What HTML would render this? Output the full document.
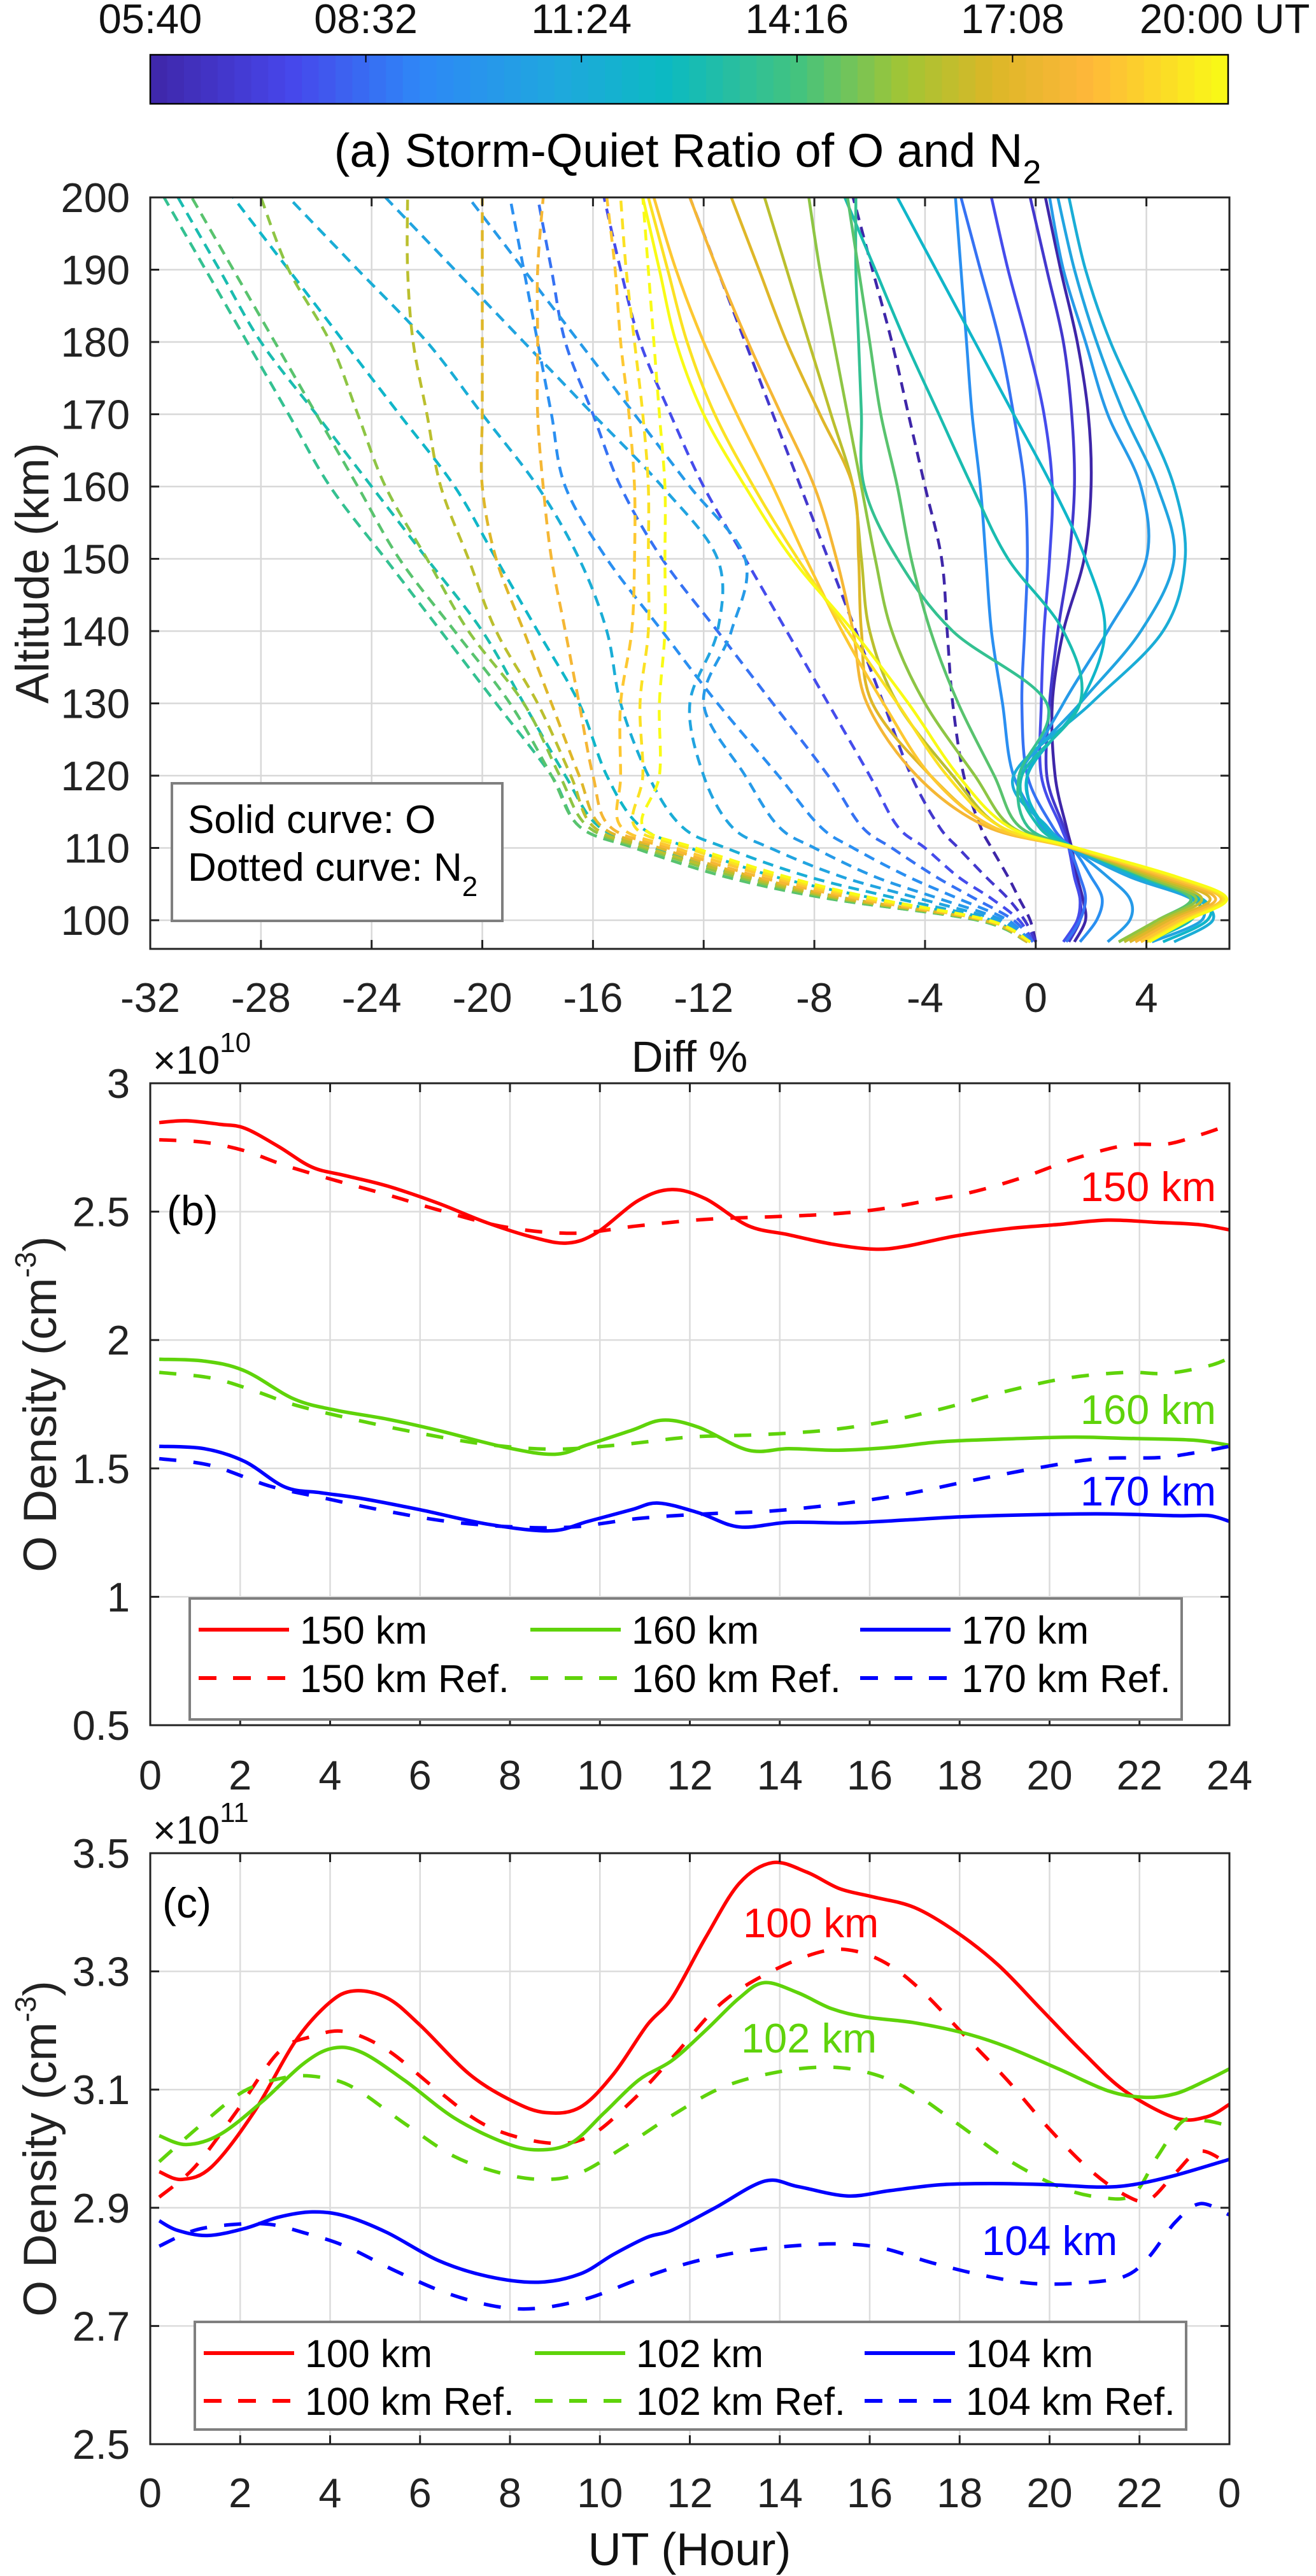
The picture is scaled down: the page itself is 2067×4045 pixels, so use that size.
<!DOCTYPE html>
<html><head><meta charset="utf-8"><title>Storm-Quiet O and N2</title>
<style>
html,body{margin:0;padding:0;background:#fff;}
svg{display:block;font-family:"Liberation Sans",Arial,sans-serif;}
</style></head>
<body>
<svg id="fig" width="2067" height="4045" viewBox="0 0 2067 4045" xmlns="http://www.w3.org/2000/svg">
<defs>
<clipPath id="clipA"><rect x="236" y="310" width="1695" height="1180"/></clipPath>
<clipPath id="clipB"><rect x="236" y="1701" width="1695" height="1009"/></clipPath>
<clipPath id="clipC"><rect x="236" y="2910" width="1695" height="928"/></clipPath>
</defs>
<g id="colorbar"></g>
<g id="panelA"></g>
<g id="panelB"></g>
<g id="panelC"></g>
</svg>
<script>
// ---------- Panel (a) data ----------
const aAlts = [97,100,103,106,110,113,120,130,140,150,160,170,180,190,200];
const aTimes = [5.67,6.7,7.7,8.7,9.7,10.3,10.9,11.5,12.2,13,13.8,14.6,15.4,16.2,17,17.8,18.6,19.3,20];
const oDiff = [
 [1.4,1.8,1.7,1.5,1.3,1.1, 0.7,0.6,1.0,1.75,2.0,1.9,1.5,0.9,0.35],
 [1.2,1.6,1.6,1.4,1.2,1.0, 0.4,0.5,0.8,1.2,1.4,1.3,1.0,0.4,-0.2],
 [1.0,1.5,1.6,1.4,1.2,0.9, 0.2,0.2,0.3,0.5,0.6,0.3,-0.3,-1.0,-1.6],
 [1.1,1.6,1.8,1.6,1.2,0.6, -0.3,-0.5,-0.4,-0.3,-0.4,-0.8,-1.3,-2.0,-2.7],
 [1.6,2.2,2.4,2.0,1.3,0.3, -0.8,-1.2,-1.6,-1.8,-2.0,-2.3,-2.5,-2.7,-2.9],
 [2.6,3.4,3.4,2.6,1.3,0.2, -0.3,1.0,2.6,4.0,3.8,2.6,1.8,1.0,0.5],
 [4.2,6.0,5.6,3.4,1.3,0.3, -0.6,1.6,3.8,5.0,4.4,3.2,2.2,1.4,0.8],
 [5.0,6.4,5.8,3.6,1.4,0.4, -0.8,2.0,4.6,5.4,5.0,3.9,2.7,1.8,1.2],
 [4.6,6.2,6.0,3.8,1.4,0.3, -0.3,1.6,2.5,1.8,0.6,-0.8,-2.2,-3.6,-5.0],
 [4.0,5.6,5.8,3.8,1.4,0.1, -0.5,1.6,1.0,-1.0,-2.3,-3.5,-4.7,-5.8,-6.9],
 [3.4,4.8,5.6,3.9,1.4,-0.3, -0.6,0.4,-3.0,-5.0,-6.2,-6.3,-6.4,-6.5,-6.5],
 [3.0,4.4,5.6,4.0,1.4,-0.6, -1.5,-2.8,-3.8,-4.5,-5.0,-5.6,-6.0,-6.4,-6.8],
 [3.0,4.4,5.8,4.0,1.3,-0.9, -2.2,-4.0,-5.2,-5.8,-6.3,-6.8,-7.3,-7.8,-8.2],
 [3.2,4.6,6.0,4.2,1.3,-1.3, -3.0,-5.0,-6.0,-6.3,-6.6,-7.4,-8.2,-9.0,-9.8],
 [3.4,4.8,6.3,4.4,1.3,-1.6, -3.8,-5.9,-6.3,-6.4,-6.6,-7.8,-9.0,-10.0,-11.0],
 [3.6,5.0,6.5,4.6,1.3,-1.8, -4.3,-6.1,-6.6,-7.2,-8.0,-9.2,-10.4,-11.5,-12.5],
 [3.8,5.2,6.7,4.8,1.3,-1.6, -3.8,-5.5,-7.0,-8.3,-9.5,-10.8,-12.0,-13.0,-13.8],
 [4.0,5.4,6.8,5.0,1.4,-1.3, -3.2,-5.0,-6.8,-8.6,-10.2,-11.6,-12.6,-13.3,-14.0],
 [4.1,5.5,6.9,5.1,1.5,-1.0, -2.8,-4.6,-6.6,-8.8,-10.5,-12.0,-13.0,-13.6,-14.2]
];
const n2Diff = [
 [0,-0.2,-0.6,-1.0,-1.6,-2.0, -2.6,-3.0,-3.2,-3.4,-4.0,-4.6,-5.2,-5.9,-6.6],
 [0,-0.4,-1.0,-1.8,-2.8,-3.5, -4.5,-5.5,-6.5,-7.5,-8.5,-9.5,-10.5,-11.5,-12.5],
 [-0.1,-0.6,-1.6,-2.8,-4.0,-5.0, -6.0,-7.5,-9.0,-10.5,-12.0,-13.2,-14.3,-15.0,-15.6],
 [-0.1,-0.8,-2.2,-3.6,-5.2,-6.3, -7.5,-9.5,-11.5,-13.5,-15.0,-16.0,-17.0,-17.5,-18.0],
 [-0.2,-1.0,-2.8,-4.6,-6.6,-7.8, -9.3,-11.5,-13.5,-15.5,-17.0,-17.5,-18.0,-18.5,-19.0],
 [-0.2,-1.2,-3.5,-5.8,-8.0,-9.3, -10.5,-12.0,-11.0,-10.5,-12.5,-14.5,-16.5,-18.5,-20.5],
 [-0.2,-1.4,-4.2,-7.0,-9.6,-11.0, -12.0,-12.5,-11.5,-11.5,-13.5,-16.0,-18.5,-21.0,-23.5],
 [-0.3,-1.6,-5.0,-8.2,-11.2,-12.8, -14.0,-15.0,-15.5,-16.5,-18.0,-20.0,-22.0,-24.5,-27.0],
 [-0.3,-1.8,-5.8,-9.4,-12.5,-14.3, -15.5,-16.5,-18.0,-19.5,-21.0,-23.0,-25.0,-27.0,-29.0],
 [-0.3,-2.0,-6.8,-10.5,-13.8,-15.8, -17.0,-18.5,-20.0,-22.0,-24.0,-26.0,-28.0,-29.5,-31.0],
 [-0.3,-2.1,-7.5,-11.2,-14.5,-16.5, -17.5,-19.5,-21.5,-23.5,-25.5,-27.0,-28.5,-30.0,-31.5],
 [-0.3,-2.1,-7.5,-11.2,-14.5,-16.5, -17.5,-19.0,-21.0,-23.0,-24.5,-26.0,-27.5,-29.0,-30.5],
 [-0.3,-2.0,-7.2,-10.8,-14.2,-16.2, -17.2,-18.5,-20.5,-22.0,-23.5,-24.5,-25.5,-27.0,-28.0],
 [-0.3,-1.9,-7.0,-10.5,-14.0,-16.0, -16.8,-18.0,-19.5,-20.5,-21.5,-22.0,-22.5,-22.7,-22.7],
 [-0.3,-1.9,-6.8,-10.2,-13.6,-15.7, -16.5,-17.5,-18.5,-19.5,-20.0,-20.0,-20.0,-20.0,-20.0],
 [-0.2,-1.8,-6.5,-10.0,-13.3,-15.4, -16.0,-16.5,-17.0,-17.5,-17.8,-18.0,-18.0,-18.0,-17.8],
 [-0.2,-1.8,-6.3,-9.6,-13.0,-15.0, -15.0,-15.0,-14.6,-14.5,-14.5,-14.7,-15.0,-15.2,-15.5],
 [-0.2,-1.7,-6.0,-9.3,-12.6,-14.5, -14.2,-14.3,-14.0,-14.0,-14.0,-14.2,-14.5,-14.8,-15.0],
 [-0.2,-1.7,-5.8,-9.0,-12.3,-14.2, -13.6,-13.6,-13.4,-13.4,-13.4,-13.6,-13.8,-14.0,-14.2]
];
const aXTicks = [-32,-28,-24,-20,-16,-12,-8,-4,0,4];
const aYTicks = [100,110,120,130,140,150,160,170,180,190,200];
const cbTickLabels = ["05:40","08:32","11:24","14:16","17:08","20:00 UT"];

// ---------- Panel (b) data ----------
const bH150 = [0.2,0.8,1.55,2.1,2.85,3.6,4.35,5.27,6.4,7.5,8.6,9.3,9.93,10.86,11.6,12.35,13.3,14.2,15.15,16.1,16.8,17.9,19.1,20.2,21.3,22.4,23.35,24];
const bV150 = [2.847,2.854,2.84,2.825,2.754,2.673,2.64,2.60,2.533,2.456,2.396,2.378,2.418,2.544,2.586,2.55,2.445,2.41,2.374,2.354,2.365,2.405,2.434,2.45,2.467,2.458,2.449,2.429];
const bH150r = [0.2,1.2,2.1,3.0,4.15,5.27,6.4,7.9,9.4,10.86,12.35,13.8,15,16.1,17.2,18.3,19.4,20.55,21.7,22.6,23.35,24];
const bV150r = [2.78,2.77,2.737,2.68,2.62,2.566,2.507,2.44,2.416,2.445,2.47,2.48,2.489,2.507,2.54,2.577,2.633,2.706,2.759,2.763,2.799,2.838];
const bH160 = [0.2,1.2,2.1,3.2,4.15,5.27,6.4,7.9,9.0,9.74,10.7,11.4,12.2,13.3,14.2,15.3,16.45,17.6,19.1,20.55,21.7,23.2,24];
const bV160 = [1.925,1.918,1.88,1.77,1.726,1.692,1.648,1.582,1.555,1.593,1.648,1.688,1.66,1.571,1.577,1.571,1.582,1.604,1.615,1.622,1.617,1.61,1.59];
const bH160r = [0.2,1.36,2.3,3.2,4.5,6.0,7.5,9.0,10.5,12,13.5,15,16.3,17.6,19.1,20.4,21.7,22.6,23.55,24];
const bV160r = [1.874,1.852,1.803,1.748,1.692,1.637,1.593,1.575,1.593,1.622,1.631,1.648,1.681,1.732,1.803,1.852,1.874,1.87,1.90,1.93];
const bH170 = [0.2,1.2,2.1,3.0,3.8,4.7,6.0,7.5,8.9,9.74,10.7,11.3,12.2,13.1,14.2,15.5,16.8,18.1,20.0,21.3,22.8,23.55,24];
const bV170 = [1.586,1.577,1.527,1.427,1.405,1.383,1.339,1.283,1.257,1.294,1.339,1.365,1.327,1.272,1.29,1.288,1.299,1.312,1.321,1.323,1.316,1.316,1.294];
const bH170r = [0.2,1.36,2.66,3.8,5.1,6.6,8.1,9.4,10.86,12.35,13.8,15.3,16.8,18.3,19.8,21.1,22.4,23.2,24];
const bV170r = [1.538,1.511,1.431,1.387,1.339,1.294,1.272,1.272,1.305,1.323,1.334,1.361,1.4,1.454,1.504,1.538,1.542,1.56,1.586];
const bYTicks = [0.5,1,1.5,2,2.5,3];
const bYTickLabels = ["0.5","1","1.5","2","2.5","3"];
const bXTicks = [0,2,4,6,8,10,12,14,16,18,20,22,24];
const bXTickLabels = ["0","2","4","6","8","10","12","14","16","18","20","22","24"];

// ---------- Panel (c) data ----------
const cH100 = [0.2,0.7,1.36,2.3,3.22,3.97,4.53,5.27,6.0,7.1,8.07,8.8,9.56,10.3,11.05,11.6,12.35,13.1,13.84,14.6,15.33,16.08,17.0,17.94,18.87,19.8,20.74,21.67,22.8,23.5,24];
const cV100 = [2.961,2.948,2.969,3.061,3.181,3.246,3.267,3.255,3.209,3.126,3.08,3.061,3.07,3.126,3.209,3.255,3.357,3.449,3.484,3.468,3.44,3.426,3.408,3.366,3.31,3.237,3.163,3.098,3.052,3.054,3.075];
const cH100r = [0.2,0.99,1.9,2.85,3.6,4.34,5.27,6.4,7.5,8.8,9.74,10.7,11.6,12.7,13.84,14.96,15.7,16.45,17.2,18.13,19.06,20.0,20.9,21.67,22.2,22.8,23.35,24];
const cV100r = [2.918,2.969,3.061,3.163,3.19,3.198,3.167,3.098,3.038,3.01,3.02,3.08,3.153,3.246,3.301,3.334,3.334,3.31,3.264,3.19,3.116,3.033,2.964,2.922,2.913,2.959,2.996,2.973];
const cH102 = [0.2,0.8,1.55,2.48,3.41,4.06,4.7,5.65,6.76,7.88,8.63,9.37,10.1,10.86,11.6,12.35,13.1,13.66,14.4,15.15,15.9,17.0,18.13,19.06,20.2,21.3,22.1,22.8,23.5,24];
const cV102 = [3.022,3.007,3.024,3.079,3.144,3.17,3.163,3.116,3.052,3.01,2.998,3.01,3.061,3.116,3.149,3.2,3.255,3.281,3.264,3.237,3.223,3.213,3.195,3.172,3.135,3.098,3.087,3.093,3.116,3.135];
const cH102r = [0.2,1.17,2.1,3.04,3.78,4.53,5.65,6.76,7.88,8.8,9.56,10.5,11.6,12.7,13.84,14.96,15.9,16.8,17.94,19.06,20.2,21.1,21.85,22.4,22.97,23.5,24];
const cV102r = [2.978,3.043,3.098,3.121,3.121,3.103,3.043,2.987,2.957,2.948,2.959,3.001,3.056,3.103,3.128,3.138,3.13,3.103,3.043,2.982,2.936,2.918,2.922,2.987,3.047,3.047,3.038];
const cH104 = [0.2,0.6,1.27,2.1,2.85,3.6,4.34,5.27,6.4,7.5,8.63,9.56,10.3,11.05,11.6,12.54,13.66,14.4,15.5,16.45,17.57,18.7,20.0,21.1,21.85,22.8,24];
const cV104 = [2.878,2.862,2.853,2.865,2.884,2.893,2.886,2.858,2.811,2.784,2.774,2.788,2.821,2.85,2.862,2.899,2.945,2.936,2.92,2.929,2.939,2.941,2.939,2.935,2.939,2.955,2.982];
const cH104r = [0.2,0.99,1.9,2.66,3.41,4.34,5.46,6.58,7.7,8.63,9.74,10.86,12.0,13.1,14.2,15.33,16.27,17.38,18.5,19.62,20.74,21.67,22.2,22.8,23.35,24];
const cV104r = [2.835,2.862,2.872,2.872,2.858,2.835,2.793,2.756,2.733,2.73,2.747,2.779,2.807,2.825,2.835,2.839,2.832,2.807,2.786,2.772,2.773,2.784,2.816,2.876,2.907,2.888];
const cYTicks = [2.5,2.7,2.9,3.1,3.3,3.5];
const cYTickLabels = ["2.5","2.7","2.9","3.1","3.3","3.5"];
const cXTicks = [0,2,4,6,8,10,12,14,16,18,20,22,24];
const cXTickLabels = ["0","2","4","6","8","10","12","14","16","18","20","22","0"];

// ---------- helpers ----------
const NS = "http://www.w3.org/2000/svg";
function mk(tag, attrs, parent){
  const e = document.createElementNS(NS, tag);
  for (const k in attrs) e.setAttribute(k, attrs[k]);
  parent.appendChild(e);
  return e;
}
function txt(parent, x, y, s, size, anchor, fill){
  const t = mk("text", {x:x, y:y, "font-size":size, "text-anchor":anchor||"start", fill:fill||"#222"}, parent);
  t.textContent = s;
  return t;
}
function span(t, s, size, dy){
  const ts = mk("tspan", {"font-size":size, dy:dy}, t);
  ts.textContent = s;
  return ts;
}
const parulaStops = [[0,[62,38,168]],[0.13,[71,70,235]],[0.25,[46,135,247]],[0.38,[31,168,221]],[0.48,[11,186,194]],[0.6,[67,195,127]],[0.7,[162,197,52]],[0.78,[219,183,39]],[0.87,[254,183,58]],[1,[249,251,21]]];
function parula(f){
  f = Math.max(0, Math.min(1, f));
  for (let i=1;i<parulaStops.length;i++){
    if (f <= parulaStops[i][0]){
      const a = parulaStops[i-1], b = parulaStops[i];
      const u = (f-a[0])/(b[0]-a[0]);
      const c = a[1].map((v,j)=>Math.round(v+(b[1][j]-v)*u));
      return "rgb("+c.join(",")+")";
    }
  }
  return "rgb(249,251,21)";
}
function smoothPath(xs, ys, xf, yf){
  const p = xs.map((x,i)=>[xf(x), yf(ys[i])]);
  let d = "M"+p[0][0].toFixed(1)+","+p[0][1].toFixed(1);
  for (let i=0;i<p.length-1;i++){
    const p0 = p[i-1]||p[i], p1=p[i], p2=p[i+1], p3=p[i+2]||p[i+1];
    const c1x = p1[0]+(p2[0]-p0[0])/6, c1y = p1[1]+(p2[1]-p0[1])/6;
    const c2x = p2[0]-(p3[0]-p1[0])/6, c2y = p2[1]-(p3[1]-p1[1])/6;
    d += " C"+c1x.toFixed(1)+","+c1y.toFixed(1)+" "+c2x.toFixed(1)+","+c2y.toFixed(1)+" "+p2[0].toFixed(1)+","+p2[1].toFixed(1);
  }
  return d;
}

// ---------- colorbar ----------
(function(){
  const g = document.getElementById("colorbar");
  const x0 = 236, x1 = 1929, y0 = 86, y1 = 163, n = 64;
  for (let i=0;i<n;i++){
    const r = mk("rect", {x: x0+(x1-x0)*i/n, y:y0, width:(x1-x0)/n+0.6, height:y1-y0, fill: parula((i+0.5)/n)}, g);
    
    
  }
  const fr = mk("rect", {x:x0, y:y0, width:x1-x0, height:y1-y0, fill:"none", stroke:"#000", "stroke-width":2.5}, g);
  
  
  cbTickLabels.forEach((s,i)=>{
    const x = x0 + (x1-x0)*i/(cbTickLabels.length-1);
    if (i>0 && i<cbTickLabels.length-1) mk("line",{x1:x,x2:x,y1:y0,y2:y0+12,stroke:"#000","stroke-width":2},g);
    const last = i===cbTickLabels.length-1;
    const t = txt(g, last ? 1790 : x, 52, s, 65, last ? "start":"middle", "#111");
    
    
  });
})();

// ---------- panel A ----------
(function(){
  const g = document.getElementById("panelA");
  const L=236, R=1931, T=310, B=1490;
  const xf = d => L + (d+32)*(R-L)/39;
  const yf = a => T + (200-a)*11.35;
  const title = mk("text", {x:1080, y:262, "font-size":74, "text-anchor":"middle", fill:"#000"}, g);
  
  
  span(title, "(a) Storm-Quiet Ratio of O and N", 74, 0);
  span(title, "2", 52, 26);
  const grid = mk("g", {stroke:"#d8d8d8","stroke-width":2.5}, g);
  
  
  aXTicks.forEach(v=>mk("line",{x1:xf(v),x2:xf(v),y1:T,y2:B},grid));
  aYTicks.forEach(v=>mk("line",{x1:L,x2:R,y1:yf(v),y2:yf(v)},grid));
  const curves = mk("g", {"clip-path":"url(#clipA)", fill:"none", "stroke-width":4.5, "stroke-linejoin":"round"}, g);
  const t0 = aTimes[0], t1 = aTimes[aTimes.length-1];
  n2Diff.forEach((row,i)=>{
    const p = mk("path", {d: smoothPath(aAlts, row, yf, xf).replace(/(-?\d+\.?\d*),(-?\d+\.?\d*)/g, "$2,$1"), stroke: parula((aTimes[i]-t0)/(t1-t0)), "stroke-dasharray":"17 11"}, curves);
    
    
  });
  oDiff.forEach((row,i)=>{
    const p = mk("path", {d: smoothPath(aAlts, row, yf, xf).replace(/(-?\d+\.?\d*),(-?\d+\.?\d*)/g, "$2,$1"), stroke: parula((aTimes[i]-t0)/(t1-t0))}, curves);
    
    
  });
  const ax = mk("g",{stroke:"#222","stroke-width":3,fill:"none"},g);
  
  
  mk("rect",{x:L,y:T,width:R-L,height:B-T},ax);
  aXTicks.forEach(v=>{mk("line",{x1:xf(v),x2:xf(v),y1:B,y2:B-14},ax); mk("line",{x1:xf(v),x2:xf(v),y1:T,y2:T+14},ax);});
  aYTicks.forEach(v=>{mk("line",{x1:L,x2:L+14,y1:yf(v),y2:yf(v)},ax); mk("line",{x1:R,x2:R-14,y1:yf(v),y2:yf(v)},ax);});
  aXTicks.forEach(v=>{ const t = txt(g, xf(v), 1589, String(v), 65, "middle");
    
     });
  aYTicks.forEach(v=>{ const t = txt(g, 204, yf(v)+23, String(v), 65, "end");
    
     });
  const xl = txt(g, 1083, 1683, "Diff %", 69, "middle", "#111");
  
  
  const yl = txt(g, 0, 0, "Altitude (km)", 73, "middle", "#222");
  yl.setAttribute("transform","translate(76,900) rotate(-90)");
  
  
  const lg = mk("g",{},g);
  
  
  mk("rect",{x:270,y:1230,width:519,height:216,fill:"#fff",stroke:"#7f7f7f","stroke-width":4},lg);
  txt(lg, 295, 1308, "Solid curve: O", 62, "start", "#000");
  const l2 = txt(lg, 295, 1383, "", 62, "start", "#000");
  span(l2, "Dotted curve: N", 62, 0);
  span(l2, "2", 44, 24);
})();

// ---------- generic line panel ----------
function linePanel(gid, T, B, ymin, ymax, yTicks, yTickLabels, xTickLabels, series, expo, xTickY, xTitle){
  const g = document.getElementById(gid);
  const L=236, R=1931;
  const xf = h => L + h*(R-L)/24;
  const yf = v => B - (v-ymin)*(B-T)/(ymax-ymin);
  const grid = mk("g", {stroke:"#dcdcdc","stroke-width":2.5}, g);
  
  
  bXTicks.forEach(v=>mk("line",{x1:xf(v),x2:xf(v),y1:T,y2:B},grid));
  yTicks.forEach(v=>mk("line",{x1:L,x2:R,y1:yf(v),y2:yf(v)},grid));
  const cg = mk("g",{"clip-path":"url(#"+series.clip+")",fill:"none","stroke-width":5.5,"stroke-linejoin":"round"},g);
  series.list.forEach(s=>{
    const p = mk("path",{d:smoothPath(s.h,s.v,xf,yf),stroke:s.c}, cg);
    if (s.dash) p.setAttribute("stroke-dasharray","27 27");
    
    
  });
  const ax = mk("g",{stroke:"#222","stroke-width":3,fill:"none"},g);
  
  
  mk("rect",{x:L,y:T,width:R-L,height:B-T},ax);
  bXTicks.forEach(v=>{mk("line",{x1:xf(v),x2:xf(v),y1:B,y2:B-14},ax); mk("line",{x1:xf(v),x2:xf(v),y1:T,y2:T+14},ax);});
  yTicks.forEach(v=>{mk("line",{x1:L,x2:L+14,y1:yf(v),y2:yf(v)},ax); mk("line",{x1:R,x2:R-14,y1:yf(v),y2:yf(v)},ax);});
  bXTicks.forEach((v,i)=>{ const t = txt(g, xf(v), xTickY, xTickLabels[i], 65, "middle");
    
     });
  yTicks.forEach((v,i)=>{ const t = txt(g, 204, yf(v)+23, yTickLabels[i], 65, "end");
    
     });
  const ex = mk("text", {x:240, y:T-15, fill:"#111"}, g);
  
  
  span(ex, "\u00d710", 62, 0);
  span(ex, expo, 44, -34);
  const yl = mk("text",{transform:"translate(88,"+((T+B)/2)+") rotate(-90)","font-size":73,fill:"#222","text-anchor":"middle"},g);
  
  
  span(yl, "O Density (cm", 73, 0);
  span(yl, "-3", 46, -32);
  span(yl, ")", 73, 32);
  if (xTitle){
    const xt = txt(g, 1083, 4028, xTitle, 72, "middle", "#111");
    
    
  }
  return {g, xf, yf};
}
function legend(g, x, y, w, h, rows, items){
  const lg = mk("g",{},g);
  
  
  mk("rect",{x:x,y:y,width:w,height:h,fill:"#fff",stroke:"#7f7f7f","stroke-width":4},lg);
  items.forEach(it=>{
    const e = mk("g",{},lg);
    
    
    const ln = mk("line",{x1:it.lx,x2:it.lx+142,y1:rows[it.r],y2:rows[it.r],stroke:it.c,"stroke-width":6},e);
    if (it.dash) ln.setAttribute("stroke-dasharray","28 26");
    txt(e, it.lx+159, rows[it.r]+22, it.t, 61, "start", "#000");
  });
}

// ---------- panel B ----------
(function(){
  const RED="#ff0000", GRN="#5fd30a", BLU="#0000ff";
  const p = linePanel("panelB", 1701, 2709, 0.5, 3, bYTicks, bYTickLabels, bXTickLabels, {clip:"clipB", list:[
    {h:bH150,v:bV150,c:RED,name:"line-150km"},{h:bH150r,v:bV150r,c:RED,dash:1,name:"line-150km-ref"},
    {h:bH160,v:bV160,c:GRN,name:"line-160km"},{h:bH160r,v:bV160r,c:GRN,dash:1,name:"line-160km-ref"},
    {h:bH170,v:bV170,c:BLU,name:"line-170km"},{h:bH170r,v:bV170r,c:BLU,dash:1,name:"line-170km-ref"}]}, "10", 2810, null);
  const pl = txt(p.g, 262, 1924, "(b)", 66, "start", "#000");
  
  
  [["150 km",1886,RED],["160 km",2236,GRN],["170 km",2364,BLU]].forEach(a=>{
    const t = txt(p.g, 1910, a[1], a[0], 65, "end", a[2]);
    
    
  });
  legend(p.g, 298, 2510, 1558, 190, [2559,2635], [
    {lx:312,r:0,c:RED,t:"150 km"},{lx:833,r:0,c:GRN,t:"160 km"},{lx:1351,r:0,c:BLU,t:"170 km"},
    {lx:312,r:1,c:RED,dash:1,t:"150 km Ref."},{lx:833,r:1,c:GRN,dash:1,t:"160 km Ref."},{lx:1351,r:1,c:BLU,dash:1,t:"170 km Ref."}]);
})();

// ---------- panel C ----------
(function(){
  const RED="#ff0000", GRN="#5fd30a", BLU="#0000ff";
  const p = linePanel("panelC", 2910, 3838, 2.5, 3.5, cYTicks, cYTickLabels, cXTickLabels, {clip:"clipC", list:[
    {h:cH100,v:cV100,c:RED,name:"line-100km"},{h:cH100r,v:cV100r,c:RED,dash:1,name:"line-100km-ref"},
    {h:cH102,v:cV102,c:GRN,name:"line-102km"},{h:cH102r,v:cV102r,c:GRN,dash:1,name:"line-102km-ref"},
    {h:cH104,v:cV104,c:BLU,name:"line-104km"},{h:cH104r,v:cV104r,c:BLU,dash:1,name:"line-104km-ref"}]}, "11", 3937, "UT (Hour)");
  const pl = txt(p.g, 255, 3011, "(c)", 66, "start", "#000");
  
  
  [["100 km",1167,3042,RED],["102 km",1164,3223,GRN],["104 km",1542,3541,BLU]].forEach(a=>{
    const t = txt(p.g, a[1], a[2], a[0], 65, "start", a[3]);
    
    
  });
  legend(p.g, 306, 3646, 1557, 169, [3695,3770], [
    {lx:320,r:0,c:RED,t:"100 km"},{lx:840,r:0,c:GRN,t:"102 km"},{lx:1358,r:0,c:BLU,t:"104 km"},
    {lx:320,r:1,c:RED,dash:1,t:"100 km Ref."},{lx:840,r:1,c:GRN,dash:1,t:"102 km Ref."},{lx:1358,r:1,c:BLU,dash:1,t:"104 km Ref."}]);
})();
</script>
</body></html>
